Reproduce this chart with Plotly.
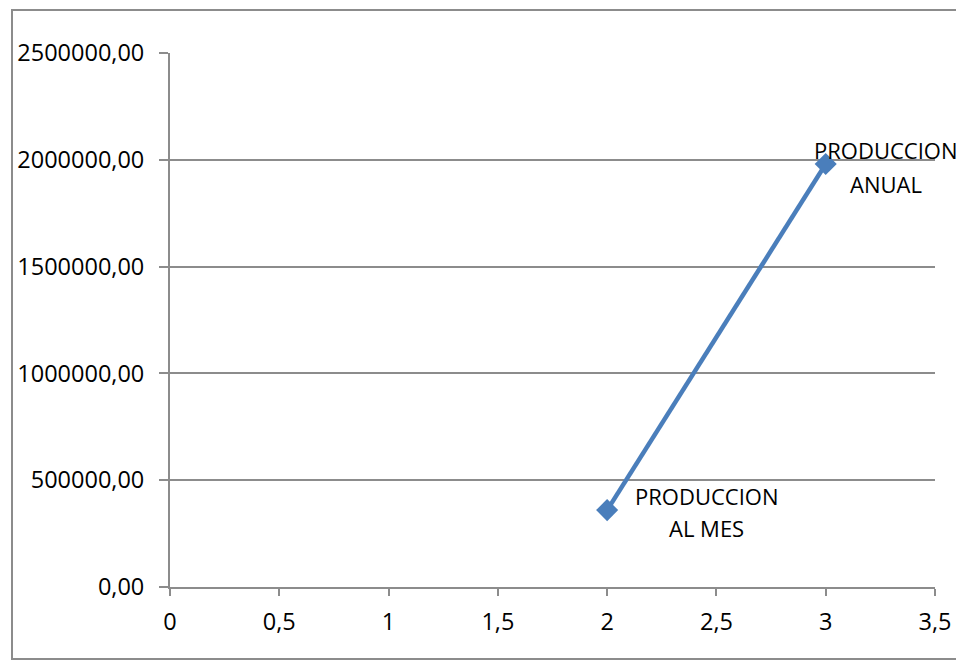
import plotly.graph_objects as go

x_vals = [2, 3]
y_vals = [360000, 1980000]
point_labels = ["PRODUCCION\nAL MES", "PRODUCCION\nANUAL"]
y_ticks = [0, 500000, 1000000, 1500000, 2000000, 2500000]
y_tick_text = ["0,00", "500000,00", "1000000,00", "1500000,00", "2000000,00", "2500000,00"]
x_ticks = [0, 0.5, 1, 1.5, 2, 2.5, 3, 3.5]
x_tick_text = ["0", "0,5", "1", "1,5", "2", "2,5", "3", "3,5"]

FONT = "Open Sans"
FS = 23.5
AFS = 22
W, H = 956, 654
L, R, T, B = 162, 29, 45, 75
PW = W - L - R
PH = H - T - B

fig = go.Figure()
fig.add_trace(go.Scatter(
    x=x_vals, y=y_vals, mode="lines+markers",
    line=dict(color="#4A7EBB", width=4.5),
    marker=dict(symbol="diamond", size=17, color="#4A7EBB"),
    showlegend=False, hoverinfo="skip"))

# label placement offsets (pixels): center x shift, y shifts for each line
label_offsets = [(99, [14, -18]), (60, [14, -20])]
for xv, yv, lab, (dx, dys) in zip(x_vals, y_vals, point_labels, label_offsets):
    for line, dy in zip(lab.split("\n"), dys):
        fig.add_annotation(x=xv, y=yv, text=line, showarrow=False,
                           xanchor="center", yanchor="middle", xshift=dx, yshift=dy,
                           font=dict(family=FONT, size=AFS, color="#000"))

fig.add_shape(type="rect", xref="paper", yref="paper",
              x0=(4 - L) / PW, x1=(975 - L) / PW,
              y0=((H - B) - 651) / PH, y1=((H - B) - 2) / PH,
              line=dict(color="#8C8C8C", width=2), fillcolor="rgba(0,0,0,0)", layer="below")

fig.update_layout(
    width=W, height=H,
    margin=dict(l=L, r=R, t=T, b=B, autoexpand=False),
    paper_bgcolor="white", plot_bgcolor="white",
    font=dict(family=FONT, size=FS, color="#000"),
    xaxis=dict(range=[0, 3.5], tickvals=x_ticks, ticktext=x_tick_text,
               showgrid=False, zeroline=False, showline=True, linecolor="#8C8C8C", linewidth=2,
               ticks="outside", ticklen=7, tickcolor="#8C8C8C", tickwidth=2,
               ticklabelstandoff=6, automargin=False,
               tickfont=dict(family=FONT, size=FS), fixedrange=True),
    yaxis=dict(range=[0, 2500000], tickvals=y_ticks, ticktext=y_tick_text,
               showgrid=True, gridcolor="#8C8C8C", gridwidth=2, zeroline=False,
               showline=True, linecolor="#8C8C8C", linewidth=2,
               ticks="outside", ticklen=9, tickcolor="#8C8C8C", tickwidth=2,
               ticklabelstandoff=10, automargin=False,
               tickfont=dict(family=FONT, size=FS), fixedrange=True),
)

fig.write_html("out.html")
